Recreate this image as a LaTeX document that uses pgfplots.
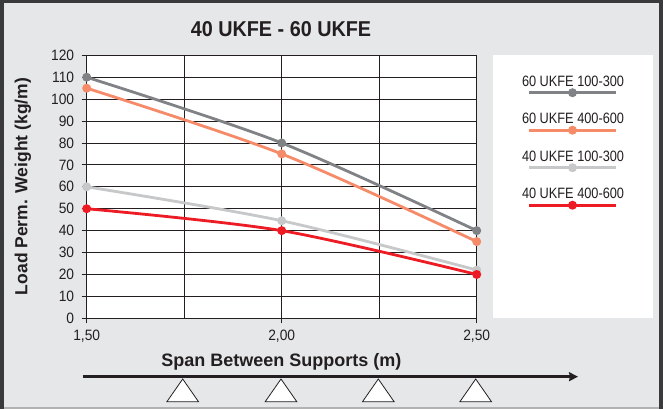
\documentclass[border=0pt]{standalone}
\usepackage{pgfplots}
\pgfplotsset{compat=1.18}
\usetikzlibrary{arrows.meta}
\usepackage{fontspec}
\setmainfont{Liberation Sans}
\newfontfamily\tickfont[FakeStretch=0.92]{Liberation Sans}
\newfontfamily\legfont[FakeStretch=0.85]{Liberation Sans}
\newfontfamily\titlefont[FakeStretch=0.92]{Liberation Sans}
\definecolor{bgc}{HTML}{E6E7E8}
\definecolor{brd}{HTML}{3A3A3C}
\definecolor{txt}{HTML}{231F20}
\definecolor{cA}{HTML}{808285}
\definecolor{cB}{HTML}{F58B68}
\definecolor{cC}{HTML}{C7C8CA}
\definecolor{cD}{HTML}{ED1C24}
\begin{document}
\begin{tikzpicture}[x=1pt,y=1pt]
\fill[bgc] (0,0) rectangle (663,409);
\fill[black!30] (0,0) rectangle (663,1.5);
\fill[brd] (0,0) rectangle (4,409);
\fill[brd] (0,406) rectangle (663,409);
\fill[brd] (659,0) rectangle (663,409);
\fill[white] (493,91) rectangle (653,354);
\begin{axis}[
  at={(86.7pt,90.7pt)}, anchor=south west,
  scale only axis, width=390pt, height=263pt,
  xmin=1.5, xmax=2.5, ymin=0, ymax=120,
  xtick={1.5,2,2.5}, xticklabels={{1,50},{2,00},{2,50}},
  minor xtick={1.75,2.25},
  ytick={0,10,...,120},
  /pgf/number format/assume math mode=true,
  xmajorgrids, xminorgrids, ymajorgrids,
  major grid style={txt, line width=0.8pt},
  minor grid style={txt, line width=0.8pt},
  axis line style={txt, line width=1pt},
  tick align=outside, xtick pos=bottom, ytick pos=left,
  major tick length=5pt, minor tick length=0pt,
  tick style={txt, line width=0.8pt},
  ticklabel style={font=\tickfont\fontsize{15}{15}\selectfont, text=txt},
  xticklabel style={yshift=-3pt},
  yticklabel style={xshift=-4pt},
  axis background/.style={fill=white},
  clip=false,
  every axis plot/.append style={line width=2.8pt, mark=*, mark size=3pt, smooth, tension=0.5},
  legend cell align=center,
  legend style={draw=none, fill=none, inner sep=0pt, outer sep=0pt, column sep=0pt, row sep=26.5pt,
    at={(1.247,0.925)}, anchor=north,
    nodes={font=\legfont\fontsize{15}{15}\selectfont, text=txt, inner sep=0pt, text height=11pt, text depth=0pt}},
  legend image code/.code={
    \pgfinterruptboundingbox
    \draw[mark repeat=2, mark phase=2, #1, line width=2.8pt] plot coordinates {(7pt,-12.2pt) (50.5pt,-12.2pt) (94pt,-12.2pt)};
    \endpgfinterruptboundingbox
  },
]
\addplot[cA, mark options={fill=cA, draw=cA}] coordinates {(1.5,110) (2.0,80) (2.5,40)};
\addlegendentry{60 UKFE 100-300}
\addplot[cB, mark options={fill=cB, draw=cB}] coordinates {(1.5,105) (2.0,75) (2.5,35)};
\addlegendentry{60 UKFE 400-600}
\addplot[cC, mark options={fill=cC, draw=cC}] coordinates {(1.5,60) (2.0,44.5) (2.5,22)};
\addlegendentry{40 UKFE 100-300}
\addplot[cD, mark options={fill=cD, draw=cD}] coordinates {(1.5,50) (2.0,40) (2.5,20)};
\addlegendentry{40 UKFE 400-600}
\end{axis}
\node[font=\titlefont\bfseries\fontsize{21.5}{21.5}\selectfont, text=txt] at (281,379.5) {40 UKFE - 60 UKFE};
\node[font=\bfseries\fontsize{18}{18}\selectfont, text=txt] at (281.3,47) {Span Between Supports (m)};
\node[font=\bfseries\fontsize{17.5}{17.5}\selectfont, text=txt, rotate=90] at (23,222.5) {Load Perm. Weight (kg/m)};
\draw[txt, line width=3pt, -{Stealth[length=9pt, width=9pt, inset=1pt]}] (82.7,32.3) -- (578,32.3);
\foreach \xx in {182.7,281,378.3,475.7} {
  \filldraw[fill=white, draw=txt, line width=0.8pt] (\xx,30) -- (\xx+15.8,7.3) -- (\xx-15.8,7.3) -- cycle;
}
\end{tikzpicture}
\end{document}
